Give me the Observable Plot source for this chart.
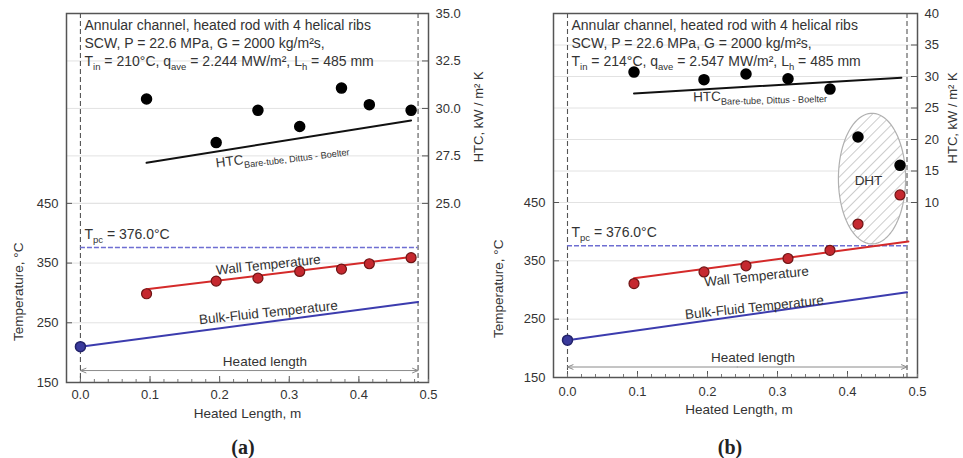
<!DOCTYPE html>
<html><head><meta charset="utf-8">
<script src="https://cdn.jsdelivr.net/npm/d3@7"></script>
<script src="https://cdn.jsdelivr.net/npm/@observablehq/plot@0.6"></script>
<style>
body{margin:0;background:#fff;font-family:"Liberation Sans",Arial,sans-serif;}
#wrap{position:relative;width:963px;height:458px;overflow:hidden;background:#fff}
.cap{position:absolute;top:434px;width:60px;text-align:center;font:bold 20px "Liberation Serif","Times New Roman",serif;color:#222;line-height:26px}
</style></head><body><div id="wrap"></div>
<script>
// ---------- shared ----------
const xPos = [0.095, 0.195, 0.255, 0.315, 0.375, 0.415, 0.475];
const xTicks = [0, 0.1, 0.2, 0.3, 0.4, 0.5];
const tTicks = [150, 250, 350, 450];
const heatedLength = 0.485;
const tPc = 376;

// ---------- panel (a) ----------
const htcA = [30.5, 28.2, 29.9, 29.05, 31.07, 30.2, 29.9];
const wallA = [298.6, 319.8, 324.8, 336, 339.9, 348.9, 359];
const htcLineXA = [0.095, 0.475];
const htcLineA = [27.14, 29.37];
const wallLineXA = [0.095, 0.475];
const wallLineA = [306, 360];
const bulkXA = [0, 0.485];
const bulkA = [210, 285];
const htcTicksA = [25, 27.5, 30, 32.5, 35];
const textA = ["Annular channel, heated rod with 4 helical ribs",
  "SCW, P = 22.6 MPa, G = 2000 kg/m²s,",
  "T_{in} = 210°C, q_{ave} = 2.244 MW/m², L_{h} = 485 mm"];

// ---------- panel (b) ----------
const htcB = [30.7, 29.5, 30.4, 29.65, 28.0, 20.4, 15.9];
const wallB = [311, 331, 341.5, 354, 368, 413, 463];
const htcLineXB = [0.095, 0.477];
const htcLineB = [27.3, 29.8];
const wallLineXB = [0.095, 0.487];
const wallLineB = [320, 383];
const bulkXB = [0, 0.485];
const bulkB = [214, 296];
const htcTicksB = [10, 15, 20, 25, 30, 35, 40];
const textB = ["Annular channel, heated rod with 4 helical ribs",
  "SCW, P = 22.6 MPa, G = 2000 kg/m²s,",
  "T_{in} = 214°C, q_{ave} = 2.547 MW/m², L_{h} = 485 mm"];
const dhtEllipse = {cx: 0.435, cy: 491, rx: 0.048, ry: 112};

const TXT = "#333";
const FONT = "Liberation Sans, Arial, sans-serif";

function panel(cfg) {
  const {width, height, mL, mR, mT, mB, tDomain, h2t, htc, wall, htcLineX, htcLine,
    wallLineX, wallLine, bulkX, bulk, htcTicks, htcFmt, text, lbl, ellipse, arrowY, pid} = cfg;
  const fw = width - mL - mR, fh = height - mT - mB;
  const pts = xPos.map((x, i) => ({x, h: h2t(htc[i]), w: wall[i]}));
  const gridVals = [250, 350, 450, ...htcTicks.slice(0, -1).map(h2t)];
  const mid = heatedLength / 2;
  const marks = [
    Plot.ruleY(gridVals, {y: d => d, stroke: "#e2e2e2", strokeWidth: 1}),
    Plot.ruleX([0, heatedLength], {x: d => d, stroke: "#555", strokeDasharray: "5,3", strokeWidth: 1.1}),
  ];
  if (ellipse) {
    const ring = d3.range(0, 360, 4).map(a => ({
      x: ellipse.cx + ellipse.rx * Math.cos(a * Math.PI / 180),
      y: ellipse.cy + ellipse.ry * Math.sin(a * Math.PI / 180)}));
    marks.push(Plot.line(ring, {x: "x", y: "y", curve: "linear-closed", fill: `url(#${pid})`, stroke: "#b0b0b0", strokeWidth: 1.2}));
    marks.push(Plot.text(["DHT"], {x: [0.43], y: [488], fill: TXT, fontSize: 13.5, fontFamily: FONT}));
  }
  marks.push(
    Plot.ruleY([tPc], {y: d => d, x1: 0, x2: heatedLength, stroke: "#6e6ed2", strokeDasharray: "5,2", strokeWidth: 1.5}),
    Plot.arrow([0, heatedLength], {x1: () => mid, x2: d => d, y1: () => arrowY, y2: () => arrowY, stroke: "#8a8a8a", strokeWidth: 1, headLength: 9, headAngle: 45}),
    Plot.text(["Heated length"], {x: [0.265], y: [arrowY], dy: -9, fill: TXT, fontSize: 13.5, fontFamily: FONT}),
    Plot.line(htcLineX.map((x, i) => ({x, y: h2t(htcLine[i])})), {x: "x", y: "y", stroke: "#111", strokeWidth: 2}),
    Plot.line(wallLineX.map((x, i) => ({x, y: wallLine[i]})), {x: "x", y: "y", stroke: "#d42a2a", strokeWidth: 2}),
    Plot.line(bulkX.map((x, i) => ({x, y: bulk[i]})), {x: "x", y: "y", stroke: "#3c3cae", strokeWidth: 2}),
    Plot.dot(pts, {x: "x", y: "h", r: 5, fill: "#000", stroke: "#000"}),
    Plot.dot(pts, {x: "x", y: "w", r: 5, fill: "#c5282f", stroke: "#6e1414", strokeWidth: 1.2}),
    Plot.dot([0], {x: () => 0, y: () => bulk[0], r: 5, fill: "#3a3a9c", stroke: "#23236a"}),
    Plot.frame({stroke: "#555", strokeWidth: 1.5}),
    // annotation block
    ...text.map((s, i) => Plot.text([s], {frameAnchor: "top-left", dx: 18, dy: 12 + i * 18, textAnchor: "start", lineAnchor: "middle", fill: TXT, fontSize: 14, fontFamily: FONT})),
    Plot.text(["T_{pc} = 376.0°C"], {x: [0], y: [tPc], dx: 4, dy: -13, textAnchor: "start", fill: TXT, fontSize: 14, fontFamily: FONT}),
    Plot.text(["Wall Temperature"], {x: [lbl.wall[0]], y: [lbl.wall[1]], rotate: lbl.wall[2], fill: TXT, fontSize: 13.5, fontFamily: FONT}),
    Plot.text(["Bulk-Fluid Temperature"], {x: [lbl.bulk[0]], y: [lbl.bulk[1]], rotate: lbl.bulk[2], fill: TXT, fontSize: 13.5, fontFamily: FONT}),
    Plot.text(["HTC_{Bare-tube, Dittus - Boelter}"], {x: [lbl.htc[0]], y: [h2t(lbl.htc[1])], rotate: lbl.htc[2], fill: TXT, fontSize: 13.5, fontFamily: FONT}),
    // inward ticks
    Plot.tickX(xTicks, {x: d => d, insetTop: fh - 6, stroke: "#555"}),
    Plot.tickX(d3.range(0, 0.501, 0.02), {x: d => d, insetTop: fh - 3, stroke: "#777"}),
    Plot.tickY(tTicks, {y: d => d, insetRight: fw - 6, stroke: "#555"}),
    Plot.tickY(htcTicks.map(h2t), {y: d => d, insetLeft: fw - 6, stroke: "#555"}),
    // axes
    Plot.axisX(xTicks, {anchor: "bottom", tickSize: 0, tickPadding: cfg.xPad, tickFormat: d3.format(".1f"), label: null, fontSize: 13, color: TXT, fontFamily: FONT}),
    Plot.axisY(tTicks, {anchor: "left", tickSize: 0, tickPadding: 8, tickFormat: d => String(d), label: null, fontSize: 13, color: TXT, fontFamily: FONT}),
    Plot.axisY(htcTicks.map(h2t), {anchor: "right", tickSize: 0, tickPadding: 7, tickFormat: t => htcFmt(Math.round((t - 450) / cfg.k * 10) / 10 + cfg.h0), label: null, fontSize: 13, color: TXT, fontFamily: FONT}),
    Plot.text(["Heated Length, m"], {frameAnchor: "bottom", x: [cfg.xTitleX], dy: cfg.xTitleDy, textAnchor: "middle", fill: TXT, fontSize: 13.5, fontFamily: FONT}),
    Plot.text(["Temperature, °C"], {x: [-0.02], y: [302], dx: -mL + 18, rotate: -90, textAnchor: "middle", lineAnchor: "middle", fill: TXT, fontSize: 13.5, fontFamily: FONT}),
    Plot.text(["HTC, kW / m² K"], {x: [0.5], y: [595], dx: cfg.htcTitleDx, rotate: -90, textAnchor: "middle", lineAnchor: "middle", fill: TXT, fontSize: 13, fontFamily: FONT})
  );
  const svg = Plot.plot({
    width, height, marginLeft: mL, marginRight: mR, marginTop: mT, marginBottom: mB,
    x: {domain: [-0.02, 0.5]},
    y: {domain: tDomain},
    style: {background: "transparent", overflow: "visible", fontFamily: FONT},
    marks
  });
  d3.select(svg).insert("defs", ":first-child").html(
    `<pattern id="${pid}" patternUnits="userSpaceOnUse" width="7" height="7" patternTransform="rotate(45)">` +
    '<rect width="7" height="7" fill="#fff"/><line x1="0" y1="0" x2="0" y2="7" stroke="#9a9a9a" stroke-width="1"/></pattern>');
  return svg;
}

function richText(svg) {
  svg.querySelectorAll("text").forEach(el => {
    const s = el.textContent;
    if (!/[_^]\{/.test(s) || el.querySelector("tspan")) return;
    const fs = parseFloat(getComputedStyle(el).fontSize) || 13;
    el.textContent = "";
    let shift = 0;
    const add = (txt, kind) => {
      if (!txt) return;
      const ts = document.createElementNS("http://www.w3.org/2000/svg", "tspan");
      ts.textContent = txt;
      const target = kind === "_" ? 0.3 : kind === "^" ? -0.4 : 0;
      const dy = (target - shift) * fs;
      if (dy) ts.setAttribute("dy", dy.toFixed(2));
      if (kind) ts.setAttribute("font-size", (fs * 0.68).toFixed(1));
      shift = target;
      el.appendChild(ts);
    };
    const re = /([_^])\{([^}]*)\}/g;
    let last = 0, m;
    while ((m = re.exec(s))) {
      add(s.slice(last, m.index), null);
      add(m[2], m[1]);
      last = re.lastIndex;
    }
    add(s.slice(last), null);
  });
}

const wrap = document.getElementById("wrap");

const kA = 31.8;
const svgA = panel({
  width: 480, height: 428, mL: 66, mR: 52, mT: 13, mB: 46, pid: "hatchA",
  tDomain: [150, 768], k: kA, h0: 25, h2t: h => 450 + (h - 25) * kA,
  htc: htcA, wall: wallA, htcLineX: htcLineXA, htcLine: htcLineA,
  wallLineX: wallLineXA, wallLine: wallLineA, bulkX: bulkXA, bulk: bulkA,
  htcTicks: htcTicksA, htcFmt: d3.format(".1f"), text: textA,
  lbl: {wall: [0.27, 347, -6], bulk: [0.27, 267, -6], htc: [0.29, 27.55, -7]},
  ellipse: null, arrowY: 170, xPad: 7, xTitleX: 0.24, xTitleDy: 35, htcTitleDx: 50
});
const kB = 10.8;
const svgB = panel({
  width: 483, height: 428, mL: 73, mR: 46, mT: 13, mB: 51, pid: "hatchB",
  tDomain: [150, 774], k: kB, h0: 10, h2t: h => 450 + (h - 10) * kB,
  htc: htcB, wall: wallB, htcLineX: htcLineXB, htcLine: htcLineB,
  wallLineX: wallLineXB, wallLine: wallLineB, bulkX: bulkXB, bulk: bulkB,
  htcTicks: htcTicksB, htcFmt: d3.format("d"), text: textB,
  lbl: {wall: [0.27, 323, -6], bulk: [0.267, 270, -6], htc: [0.275, 27.0, -1.5]},
  ellipse: dhtEllipse, arrowY: 168, xPad: 9, xTitleX: 0.245, xTitleDy: 36, htcTitleDx: 35
});
svgA.style.position = "absolute"; svgA.style.left = "0px"; svgA.style.top = "0px";
svgB.style.position = "absolute"; svgB.style.left = "480px"; svgB.style.top = "0px";
wrap.appendChild(svgA);
wrap.appendChild(svgB);
richText(svgA);
richText(svgB);

const capA = document.createElement("div");
capA.className = "cap"; capA.style.left = (243 - 30) + "px"; capA.textContent = "(a)";
const capB = document.createElement("div");
capB.className = "cap"; capB.style.left = (730 - 30) + "px"; capB.textContent = "(b)";
wrap.appendChild(capA); wrap.appendChild(capB);
</script>
</body></html>
